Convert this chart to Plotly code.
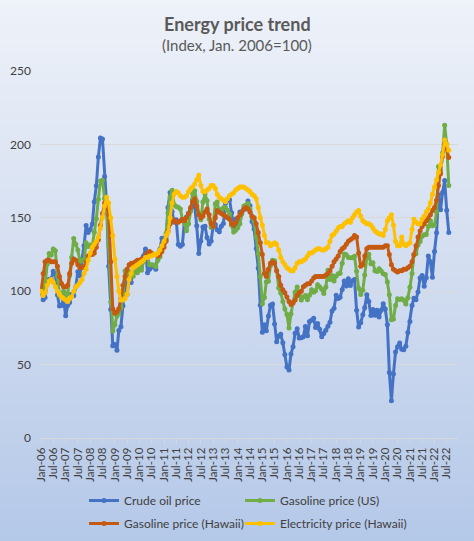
import base64
import pandas as pd
import plotly.graph_objects as go

# Monthly data, Jan-2006 .. Aug-2022 (index, Jan 2006 = 100)
months = pd.date_range("2006-01-01", "2022-08-01", freq="MS")

crude_oil = [
    100.0, 94.1, 95.7, 106.0, 108.2, 108.3, 113.6, 111.5, 97.4, 89.9, 90.2, 94.6,
    83.2, 90.5, 92.3, 97.7, 96.9, 103.1, 113.2, 110.5, 122.0, 131.0, 144.7, 140.0,
    142.0, 145.7, 161.0, 171.9, 191.5, 204.4, 203.7, 178.2, 159.0, 117.0, 87.5, 62.8,
    63.7, 59.7, 73.2, 75.8, 90.1, 106.3, 98.0, 108.5, 106.0, 115.6, 119.1, 113.7,
    119.6, 116.6, 124.0, 128.7, 112.6, 115.0, 116.5, 117.0, 114.9, 125.0, 128.6, 136.1,
    136.2, 135.3, 157.1, 167.2, 154.1, 147.0, 148.6, 131.8, 130.6, 131.8, 148.4, 150.5,
    153.1, 156.1, 162.1, 157.8, 144.5, 125.7, 134.2, 143.7, 144.3, 136.6, 132.1, 134.2,
    144.7, 145.5, 141.9, 140.5, 144.3, 146.2, 159.8, 162.7, 162.3, 153.5, 143.3, 149.1,
    144.5, 153.9, 153.9, 155.9, 156.0, 161.5, 158.2, 147.4, 142.3, 128.9, 115.7, 90.5,
    72.1, 77.2, 73.0, 83.1, 90.5, 91.3, 77.7, 65.5, 69.4, 70.6, 64.8, 56.8,
    48.4, 46.3, 57.3, 62.2, 71.3, 74.5, 68.2, 68.3, 69.0, 76.0, 69.7, 79.4,
    80.2, 81.6, 75.3, 78.0, 74.0, 69.0, 71.2, 73.4, 76.1, 78.8, 86.5, 88.4,
    97.3, 95.0, 95.8, 101.2, 106.9, 103.6, 108.4, 103.9, 107.2, 108.0, 87.0, 75.6,
    78.5, 83.9, 88.8, 97.5, 92.9, 83.5, 87.6, 83.7, 87.0, 82.4, 87.1, 91.4,
    87.8, 77.2, 44.6, 25.3, 43.6, 58.5, 62.2, 64.7, 60.5, 60.2, 62.5, 71.8,
    79.4, 90.2, 95.2, 94.2, 99.5, 109.0, 110.7, 103.4, 109.2, 124.0, 120.1, 109.5,
    127.1, 139.9, 165.7, 155.4, 167.3, 175.4, 155.2, 140.0,
]

gasoline_us = [
    100.0, 99.8, 103.7, 118.4, 125.6, 124.6, 128.8, 127.5, 110.4, 97.0, 96.3, 99.9,
    96.8, 98.4, 110.7, 122.9, 135.9, 132.0, 128.1, 120.3, 121.1, 121.1, 133.0, 130.4,
    131.4, 130.8, 140.1, 149.4, 162.7, 175.1, 175.5, 163.2, 160.0, 131.8, 92.7, 72.9,
    77.2, 83.1, 84.6, 88.5, 97.9, 113.7, 109.2, 113.0, 110.3, 110.2, 114.5, 112.6,
    117.3, 114.2, 120.1, 123.3, 123.5, 118.1, 118.0, 117.9, 116.7, 121.0, 123.3, 129.0,
    133.3, 139.4, 153.2, 164.1, 168.7, 159.0, 157.7, 157.2, 156.0, 148.9, 146.2, 141.1,
    146.0, 154.6, 166.4, 168.5, 161.2, 152.9, 148.6, 160.8, 166.3, 161.8, 149.1, 143.6,
    144.8, 159.5, 160.8, 153.9, 155.7, 156.9, 157.1, 155.2, 152.6, 145.0, 140.3, 141.5,
    143.2, 145.9, 152.6, 158.1, 158.6, 159.7, 156.2, 150.6, 147.6, 137.1, 125.7, 110.0,
    91.4, 95.7, 106.4, 106.7, 117.4, 121.0, 120.7, 113.9, 102.2, 98.8, 92.9, 87.9,
    84.1, 75.0, 84.7, 92.6, 99.3, 102.9, 97.4, 94.0, 96.1, 97.0, 94.2, 97.3,
    101.0, 99.3, 100.3, 104.4, 103.1, 101.4, 98.4, 102.8, 114.3, 107.9, 110.7, 106.9,
    110.4, 111.9, 112.3, 119.1, 125.3, 124.9, 123.0, 122.8, 122.8, 123.8, 113.6, 102.0,
    97.8, 100.7, 111.0, 122.4, 125.1, 118.7, 119.3, 114.0, 113.4, 115.3, 113.7, 111.9,
    111.4, 106.3, 97.5, 80.6, 81.0, 90.2, 94.9, 94.4, 94.9, 93.8, 91.3, 95.6,
    102.7, 112.1, 124.6, 125.5, 131.4, 133.8, 137.5, 138.5, 138.7, 144.1, 148.0, 144.5,
    145.1, 154.0, 184.9, 181.8, 194.3, 213.0, 200.2, 172.0,
]

gasoline_hawaii = [
    100, 112, 120, 121, 121, 120, 120, 120, 117, 110, 105, 103,
    103, 104, 112, 119, 122, 121, 118, 116, 116, 117, 120, 124,
    125, 125, 126, 130, 135, 145, 153, 160, 159, 152, 120, 88,
    85, 86, 88, 95, 104, 110, 115, 118, 119, 119, 120, 121,
    121, 122, 122, 124, 126, 127, 126, 125, 125, 124, 125, 127,
    130, 134, 141, 146, 149, 148, 147, 147, 148, 149, 148, 150,
    153, 157, 161, 163, 158, 152, 150, 151, 154, 156, 152, 146,
    144, 150, 155, 154, 153, 152, 151, 150, 149, 146, 145, 147,
    150, 152, 154, 156, 157, 156, 154, 151, 150, 146, 140, 133,
    125, 112, 110, 115, 119, 120, 119, 114, 110, 104, 101, 99,
    96, 93, 91, 92, 94, 97, 99, 100, 103, 104, 105, 105,
    107, 109, 110, 110, 110, 110, 110, 111, 112, 114, 117, 120,
    122, 124, 127, 129, 130, 132, 134, 135, 136, 138, 137, 126,
    117, 118, 124, 129, 130, 130, 130, 130, 130, 130, 130, 130,
    131, 131, 125, 118, 115, 114, 113, 114, 114, 115, 115, 116,
    117, 120, 125, 131, 137, 141, 144, 146, 148, 150, 152, 155,
    157, 162, 172, 180, 192, 200, 197, 191,
]

electricity_hawaii = [
    100, 97, 99, 104, 107, 108, 106, 103, 100, 98, 96, 95,
    94, 93, 95, 96, 100, 103, 104, 106, 108, 112, 115, 121,
    126, 130, 132, 134, 137, 143, 150, 158, 164, 160, 150, 138,
    122, 110, 100, 94, 94, 95, 98, 108, 112, 116, 117, 118,
    119, 120, 121, 123, 123, 124, 124, 125, 125, 126, 128, 131,
    134, 138, 140, 150, 160, 166, 168, 167, 165, 164, 164, 165,
    168, 170, 171, 173, 176, 179, 172, 168, 168, 169, 170, 172,
    172, 170, 166, 164, 163, 162, 161, 163, 165, 166, 167, 169,
    170, 171, 171, 171, 170, 169, 168, 166, 165, 163, 157, 150,
    145, 138, 133, 133, 131, 132, 133, 132, 128, 123, 120, 118,
    116, 115, 114, 114, 116, 119, 120, 120, 121, 122, 124, 126,
    126, 127, 128, 129, 129, 128, 128, 129, 130, 134, 138, 139,
    141, 143, 144, 144, 146, 147, 148, 147, 150, 152, 154, 155,
    151, 148, 147, 146, 146, 145, 143, 141, 140, 139, 139, 138,
    142, 148, 150, 152, 145, 134, 131, 131, 137, 132, 131, 132,
    133, 142, 149, 147, 146, 146, 149, 151, 154, 156, 160, 166,
    171, 176, 181, 186, 193, 203, 200, 196,
]

series_names = ["Crude oil price", "Gasoline price (US)",
                "Gasoline price (Hawaii)", "Electricity price (Hawaii)"]
series_values = [crude_oil, gasoline_us, gasoline_hawaii, electricity_hawaii]
series_colors = ["#4472C4", "#70AD47", "#C55A11", "#FFC000"]
series_legend = ["legend", "legend2", "legend", "legend2"]

title_text = "Energy price trend"
subtitle_text = "(Index, Jan. 2006=100)"
y_ticks = [0, 50, 100, 150, 200, 250]

FONT = "Lato, 'Open Sans', sans-serif"
W, H = 474, 541
L, R, T, B = 40, 16, 71, 103
pw, ph = W - L - R, H - T - B

fig = go.Figure()
for i, (name, vals, col, lg) in enumerate(zip(series_names, series_values,
                                               series_colors, series_legend)):
    fig.add_trace(go.Scatter(
        x=months, y=vals, name=name, mode="lines+markers",
        line=dict(color=col, width=3),
        marker=dict(color=col, size=5),
        legend=lg, legendgroup=f"g{i}",
    ))

svg = (
    f'<svg xmlns="http://www.w3.org/2000/svg" width="{W}" height="{H}" '
    f'preserveAspectRatio="none" viewBox="0 0 {W} {H}">'
    '<defs><linearGradient id="g" x1="0" y1="0" x2="0" y2="1">'
    '<stop offset="0" stop-color="#EEF2F9"/>'
    '<stop offset="0.5" stop-color="#D2DDF0"/>'
    '<stop offset="1" stop-color="#B4C8E8"/>'
    '</linearGradient></defs>'
    f'<rect width="{W}" height="{H}" fill="url(#g)"/></svg>'
)
bg_uri = "data:image/svg+xml;base64," + base64.b64encode(svg.encode()).decode()

fig.add_layout_image(dict(
    source=bg_uri, xref="paper", yref="paper",
    x=-L / pw, y=1 + T / ph, sizex=W / pw, sizey=H / ph,
    xanchor="left", yanchor="top", sizing="stretch", layer="below",
))

cx = (W / 2 - L) / pw
fig.add_annotation(text=f"<b>{title_text}</b>", xref="paper", yref="paper",
                   x=cx, y=1 + (T - 24) / ph, showarrow=False,
                   font=dict(family=FONT, size=18, color="#595959"),
                   xanchor="center", yanchor="middle")
fig.add_annotation(text=subtitle_text, xref="paper", yref="paper",
                   x=cx, y=1 + (T - 45) / ph, showarrow=False,
                   font=dict(family=FONT, size=15, color="#595959"),
                   xanchor="center", yanchor="middle")

legend_common = dict(
    orientation="v", xref="container", yref="container",
    xanchor="left", yanchor="top",
    font=dict(size=12, color="#404040"),
    bgcolor="rgba(0,0,0,0)", itemwidth=30,
    traceorder="grouped", tracegroupgap=4,
)

fig.update_layout(
    width=W, height=H,
    margin=dict(l=L, r=R, t=T, b=B, autoexpand=False),
    paper_bgcolor="#D2DDF0",
    plot_bgcolor="rgba(0,0,0,0)",
    font=dict(family=FONT, color="#404040"),
    showlegend=True,
    legend=dict(x=84 / W, y=1 - 486 / H, **legend_common),
    legend2=dict(x=240 / W, y=1 - 486 / H, **legend_common),
    xaxis=dict(
        type="date",
        range=["2005-12-16", "2022-12-16"],
        tick0="2006-01-01", dtick="M6", tickformat="%b-%y",
        tickangle=-90, tickfont=dict(size=11.5, color="#404040"),
        showgrid=False, showline=True, linecolor="#D9D9D9", linewidth=1,
        ticks="outside", ticklen=4, tickcolor="#D9D9D9",
        zeroline=False,
    ),
    yaxis=dict(
        range=[0, 250], tickvals=y_ticks,
        tickfont=dict(size=12, color="#404040"),
        ticklabelstandoff=8,
        showgrid=True, gridcolor="#D9D9D9", gridwidth=1,
        zeroline=False, showline=False, ticks="",
    ),
)

fig.write_html(
    "out.html",
    config={"displayModeBar": False},
    post_script="document.body.style.margin='0';document.body.style.overflow='hidden';",
)
